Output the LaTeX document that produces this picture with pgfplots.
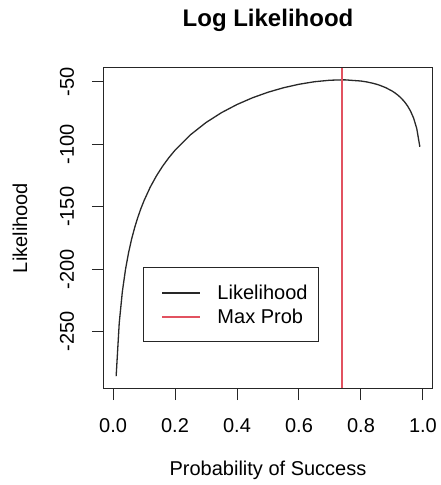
\documentclass[border=0pt]{standalone}
\usepackage{pgfplots}
\pgfplotsset{compat=1.18}
\usepackage{fontspec}
\setmainfont{Liberation Sans}
\definecolor{maxred}{RGB}{226,82,96}
\definecolor{curvegray}{RGB}{40,40,40}
\newcommand{\basefont}{\fontsize{20bp}{24bp}\selectfont}
\begin{document}
\begin{tikzpicture}
\begin{axis}[
  at={(0,0)}, anchor=south west,
  scale only axis,
  width=328bp, height=320bp,
  xmin=-0.0292, xmax=1.0292,
  ymin=-295.2, ymax=-38.8,
  axis line style={line width=1bp, black!85},
  xtick={0,0.2,0.4,0.6,0.8,1},
  xticklabels={0.0,0.2,0.4,0.6,0.8,1.0},
  ytick={-250,-200,-150,-100,-50},
  yticklabels={-250,-200,-150,-100,-50},
  tick align=outside,
  major tick length=12bp,
  tick style={line width=1bp, black!85},
  xtick pos=bottom, ytick pos=left,
  ticklabel style={font=\basefont},
  xticklabel style={anchor=center, yshift=-26bp},
  yticklabel style={anchor=center, xshift=-25bp, rotate=90},
  legend style={at={(0.1189,0.3766)}, anchor=north west,
    draw=black!85, line width=1bp, font=\basefont,
    inner xsep=11bp, inner ysep=13bp, row sep=0bp, column sep=0bp,
    nodes={inner sep=0bp}},
  legend cell align=left,
  legend image code/.code={%
    \path[draw=none, fill=none] (-8bp,-12bp) rectangle (55bp,12bp);
    \draw[#1] (0bp,0bp) -- (38bp,0bp);},
  clip=true,
]
\addplot[color=curvegray, line width=1.3bp] table {
x y
0.01 -285.74
0.02 -242.99
0.03 -218.08
0.04 -200.47
0.05 -186.86
0.06 -175.79
0.07 -166.47
0.08 -158.43
0.09 -151.37
0.10 -145.08
0.12 -134.27
0.14 -125.22
0.16 -117.46
0.18 -110.68
0.20 -104.69
0.25 -92.28
0.30 -82.49
0.35 -74.57
0.40 -68.05
0.45 -62.66
0.50 -58.22
0.55 -54.63
0.60 -51.83
0.65 -49.80
0.70 -48.60
0.74 -48.30
0.75 -48.33
0.80 -49.24
0.82 -50.03
0.84 -51.13
0.85 -51.81
0.86 -52.61
0.88 -54.57
0.90 -57.19
0.91 -58.82
0.92 -60.74
0.93 -63.00
0.94 -65.73
0.95 -69.09
0.96 -73.35
0.97 -79.03
0.98 -87.32
0.99 -101.94
};
\addlegendentry{Likelihood}
\addplot[color=maxred, line width=1.6bp] coordinates {(0.7381,-295.2) (0.7381,-38.8)};
\addlegendentry{Max Prob}
\end{axis}
% titles and axis labels
\node[font=\bfseries\fontsize{24bp}{28bp}\selectfont] at (164bp,368bp) {Log Likelihood};
\node[font=\basefont] at (164bp,-82bp) {Probability of Success};
\node[font=\basefont, rotate=90] at (-84bp,160bp) {Likelihood};
\path[use as bounding box] (-104bp,-97bp) rectangle (335bp,388bp);
\end{tikzpicture}
\end{document}
